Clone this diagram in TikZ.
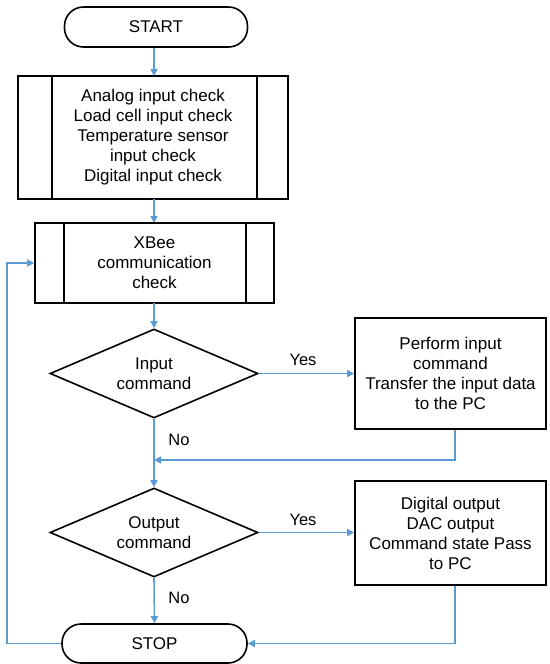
\documentclass[tikz,border=0pt]{standalone}
\usepackage{fontspec}
\setmainfont{Liberation Sans}
\usetikzlibrary{arrows.meta,shapes.geometric,calc}
\definecolor{flow}{HTML}{5B9BD5}
\begin{document}
\begin{tikzpicture}[x=1pt,y=-1pt,
  every node/.style={font=\fontsize{17}{20}\selectfont, align=center, inner sep=0pt},
  term/.style={draw=black, line width=1.6pt, rounded corners=19pt, fill=white},
  proc/.style={draw=black, line width=1.6pt, fill=white},
  decis/.style={draw=black, line width=1.6pt, shape=diamond, shape aspect=2.3, fill=white},
  flowline/.style={draw=flow, line width=1.6pt},
  flowarrow/.style={flowline, -{Triangle[length=7pt,width=7pt]}},
  lbl/.style={font=\fontsize{16.5}{19}\selectfont}
]
\useasboundingbox (0,0) rectangle (549,664);

\node[term, minimum width=183pt, minimum height=40pt] (start) at (156,27) {START};
\node[proc, minimum width=270pt, minimum height=123pt] (b1) at (153,137.5)
  {Analog input check\\Load cell input check\\Temperature sensor\\input check\\Digital input check};
\draw[line width=1.6pt] ([xshift=35pt]b1.north west) -- ([xshift=35pt]b1.south west);
\draw[line width=1.6pt] ([xshift=-32pt]b1.north east) -- ([xshift=-32pt]b1.south east);

\node[proc, minimum width=239pt, minimum height=80pt] (b2) at (154.5,263)
  {XBee\\communication\\check};
\draw[line width=1.6pt] ([xshift=30pt]b2.north west) -- ([xshift=30pt]b2.south west);
\draw[line width=1.6pt] ([xshift=-29pt]b2.north east) -- ([xshift=-29pt]b2.south east);

\node[decis, minimum width=208pt, minimum height=89pt] (d1) at (154,373.5) {Input\\command};
\node[proc, minimum width=191pt, minimum height=111pt] (b3) at (450.5,373.5)
  {Perform input\\command\\Transfer the input data\\to the PC};

\node[decis, minimum width=208pt, minimum height=89pt] (d2) at (154,532.5) {Output\\command};
\node[proc, minimum width=191pt, minimum height=104pt] (b4) at (450.5,533)
  {Digital output\\DAC output\\Command state Pass\\to PC};

\node[term, minimum width=185pt, minimum height=39pt] (stop) at (154.5,643.5) {STOP};

\node[lbl] (y1) at (303,360) {Yes};
\node[lbl] (y2) at (303,520) {Yes};
\node[lbl] (n1) at (179,440) {No};
\node[lbl] (n2) at (179,598) {No};

\coordinate (m1) at (154,460);
\coordinate (loopx) at (7,643.5);

\draw[flowarrow] (start.south -| 154,0) -- (154,76);
\draw[flowarrow] (154,199) -- (154,223);
\draw[flowarrow] (154,303) -- (d1.north);
\draw[flowarrow] (d1.east) -- (b3.west |- d1.east);
\draw[flowarrow] (d1.south) -- (d2.north);
\draw[flowarrow] (b3.south -| 455,0) |- (m1);
\draw[flowarrow] (d2.east) -- (b4.west |- d2.east);
\draw[flowarrow] (d2.south) -- (stop.north);
\draw[flowarrow] (b4.south -| 455,0) |- (stop.east);
\draw[flowarrow] (stop.west) -- (loopx) |- (b2.west);
\end{tikzpicture}
\end{document}
